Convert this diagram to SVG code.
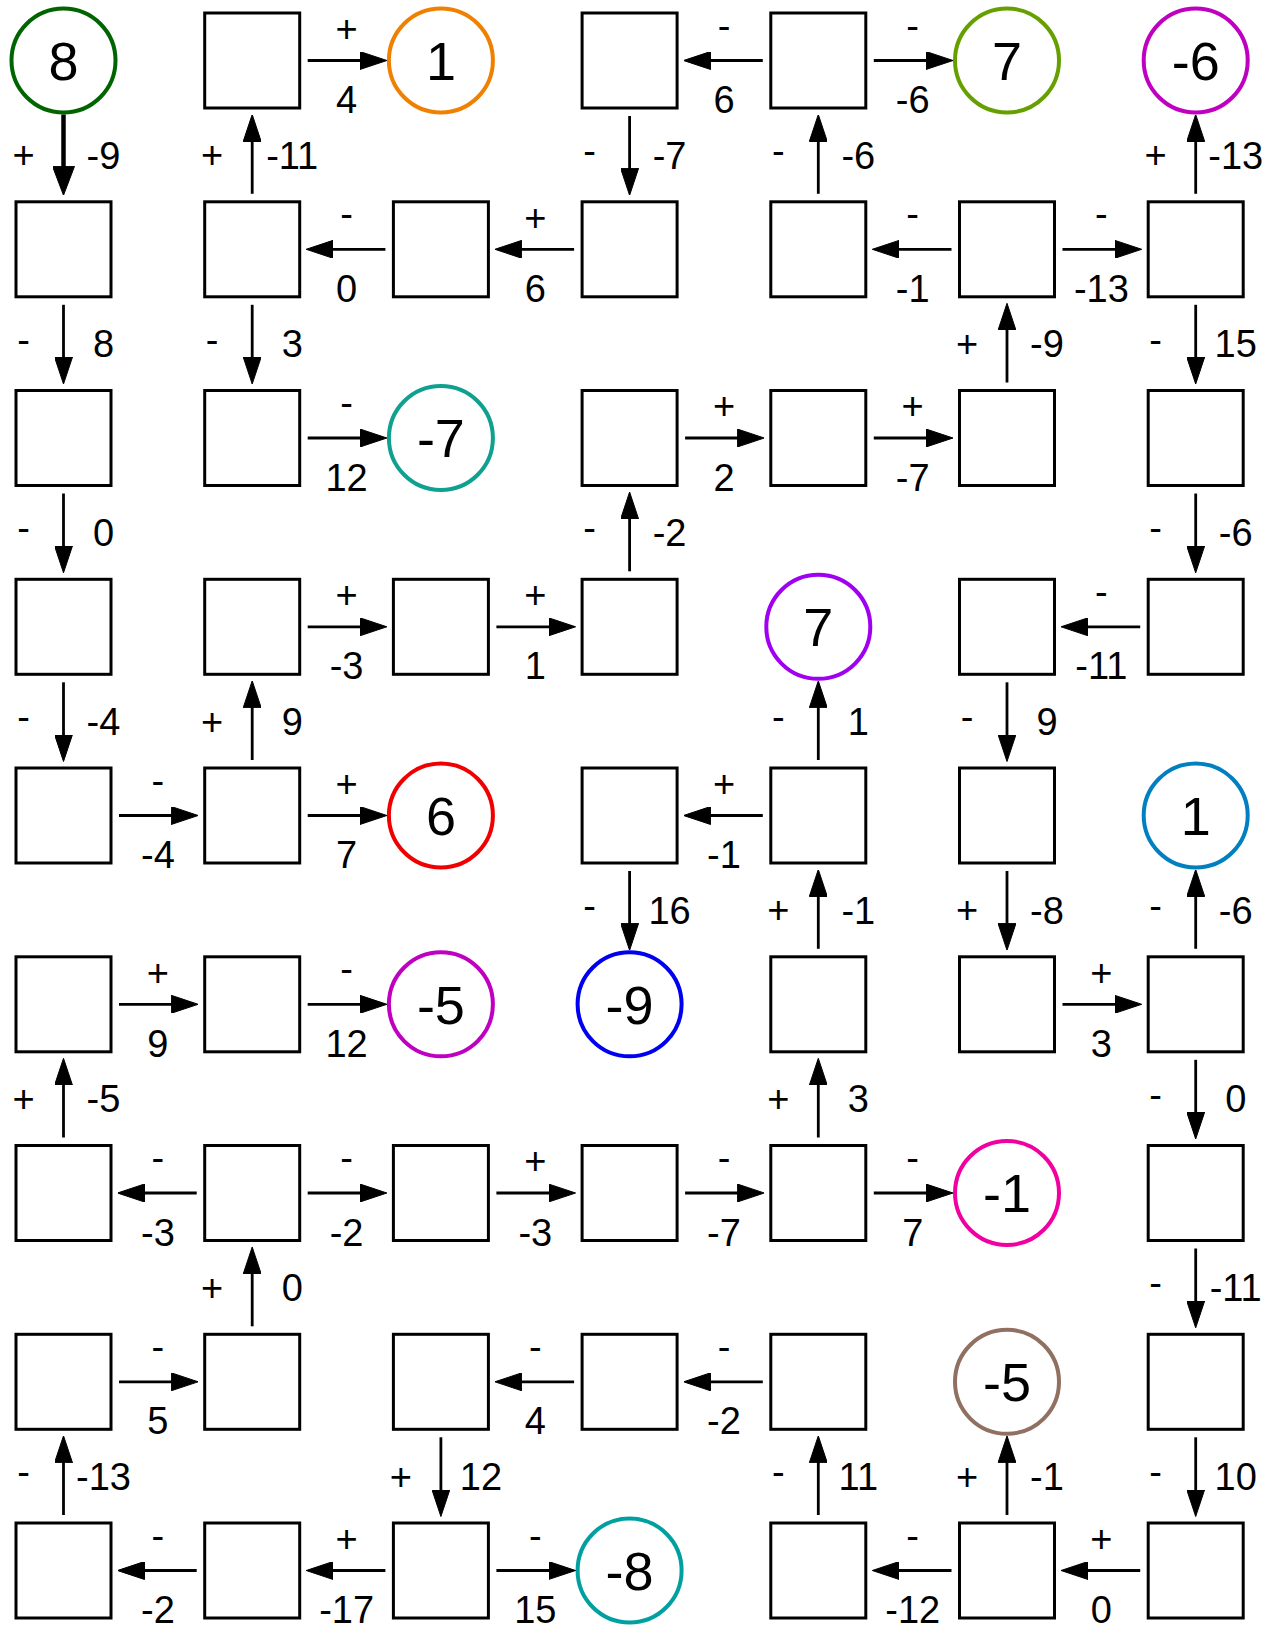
<svg xmlns="http://www.w3.org/2000/svg" width="1278" height="1625" viewBox="0 0 1278 1625">
<style>
.b{fill:#fff;stroke:#000;stroke-width:3}
.c{fill:#fff;stroke-width:4}
.n{font-family:"Liberation Sans",Arial,sans-serif;font-size:54px;text-anchor:middle;fill:#000}
.e path{fill:none;stroke:#000;stroke-width:2.8;marker-end:url(#ah)}
.e path.t{stroke-width:4.5;marker-end:url(#aht)}
.l text{font-family:"Liberation Sans",Arial,sans-serif;font-size:38px;text-anchor:middle;fill:#000}
</style>
<defs>
<marker id="ah" viewBox="0 0 27 18" refX="17" refY="9" markerWidth="27" markerHeight="18" markerUnits="userSpaceOnUse" orient="auto"><path d="M0,0 L27,9 L0,18 Z" fill="#000" stroke="#000" stroke-width="1" stroke-linejoin="round"/></marker>
<marker id="aht" viewBox="0 0 29 22" refX="19" refY="11" markerWidth="29" markerHeight="22" markerUnits="userSpaceOnUse" orient="auto"><path d="M0,0 L29,11 L0,22 Z" fill="#000" stroke="#000" stroke-width="1" stroke-linejoin="round"/></marker>
</defs>
<rect width="1278" height="1625" fill="#fff"/>
<g id="nodes">
<g id="n0_0"><circle class="c" cx="63.5" cy="60.5" r="52" stroke="#006400"/><text class="n" x="63.5" y="79.8">8</text></g>
<g id="n0_1"><rect class="b" x="204.7" y="13" width="95" height="95"/></g>
<g id="n0_2"><circle class="c" cx="440.9" cy="60.5" r="52" stroke="#F08000"/><text class="n" x="440.9" y="79.8">1</text></g>
<g id="n0_3"><rect class="b" x="582.1" y="13" width="95" height="95"/></g>
<g id="n0_4"><rect class="b" x="770.8" y="13" width="95" height="95"/></g>
<g id="n0_5"><circle class="c" cx="1007" cy="60.5" r="52" stroke="#66A000"/><text class="n" x="1007" y="79.8">7</text></g>
<g id="n0_6"><circle class="c" cx="1195.7" cy="60.5" r="52" stroke="#C000C0"/><text class="n" x="1195.7" y="79.8">-6</text></g>

<g id="n1_0"><rect class="b" x="16" y="201.8" width="95" height="95"/></g>
<g id="n1_1"><rect class="b" x="204.7" y="201.8" width="95" height="95"/></g>
<g id="n1_2"><rect class="b" x="393.4" y="201.8" width="95" height="95"/></g>
<g id="n1_3"><rect class="b" x="582.1" y="201.8" width="95" height="95"/></g>
<g id="n1_4"><rect class="b" x="770.8" y="201.8" width="95" height="95"/></g>
<g id="n1_5"><rect class="b" x="959.5" y="201.8" width="95" height="95"/></g>
<g id="n1_6"><rect class="b" x="1148.2" y="201.8" width="95" height="95"/></g>

<g id="n2_0"><rect class="b" x="16" y="390.5" width="95" height="95"/></g>
<g id="n2_1"><rect class="b" x="204.7" y="390.5" width="95" height="95"/></g>
<g id="n2_2"><circle class="c" cx="440.9" cy="438" r="52" stroke="#10A090"/><text class="n" x="440.9" y="457.3">-7</text></g>
<g id="n2_3"><rect class="b" x="582.1" y="390.5" width="95" height="95"/></g>
<g id="n2_4"><rect class="b" x="770.8" y="390.5" width="95" height="95"/></g>
<g id="n2_5"><rect class="b" x="959.5" y="390.5" width="95" height="95"/></g>
<g id="n2_6"><rect class="b" x="1148.2" y="390.5" width="95" height="95"/></g>

<g id="n3_0"><rect class="b" x="16" y="579.3" width="95" height="95"/></g>
<g id="n3_1"><rect class="b" x="204.7" y="579.3" width="95" height="95"/></g>
<g id="n3_2"><rect class="b" x="393.4" y="579.3" width="95" height="95"/></g>
<g id="n3_3"><rect class="b" x="582.1" y="579.3" width="95" height="95"/></g>
<g id="n3_4"><circle class="c" cx="818.3" cy="626.8" r="52" stroke="#A000F0"/><text class="n" x="818.3" y="646.1">7</text></g>
<g id="n3_5"><rect class="b" x="959.5" y="579.3" width="95" height="95"/></g>
<g id="n3_6"><rect class="b" x="1148.2" y="579.3" width="95" height="95"/></g>

<g id="n4_0"><rect class="b" x="16" y="768" width="95" height="95"/></g>
<g id="n4_1"><rect class="b" x="204.7" y="768" width="95" height="95"/></g>
<g id="n4_2"><circle class="c" cx="440.9" cy="815.5" r="52" stroke="#F00000"/><text class="n" x="440.9" y="834.8">6</text></g>
<g id="n4_3"><rect class="b" x="582.1" y="768" width="95" height="95"/></g>
<g id="n4_4"><rect class="b" x="770.8" y="768" width="95" height="95"/></g>
<g id="n4_5"><rect class="b" x="959.5" y="768" width="95" height="95"/></g>
<g id="n4_6"><circle class="c" cx="1195.7" cy="815.5" r="52" stroke="#0080C0"/><text class="n" x="1195.7" y="834.8">1</text></g>

<g id="n5_0"><rect class="b" x="16" y="956.8" width="95" height="95"/></g>
<g id="n5_1"><rect class="b" x="204.7" y="956.8" width="95" height="95"/></g>
<g id="n5_2"><circle class="c" cx="440.9" cy="1004.3" r="52" stroke="#C000C0"/><text class="n" x="440.9" y="1023.6">-5</text></g>
<g id="n5_3"><circle class="c" cx="629.6" cy="1004.3" r="52" stroke="#0000F0"/><text class="n" x="629.6" y="1023.6">-9</text></g>
<g id="n5_4"><rect class="b" x="770.8" y="956.8" width="95" height="95"/></g>
<g id="n5_5"><rect class="b" x="959.5" y="956.8" width="95" height="95"/></g>
<g id="n5_6"><rect class="b" x="1148.2" y="956.8" width="95" height="95"/></g>

<g id="n6_0"><rect class="b" x="16" y="1145.5" width="95" height="95"/></g>
<g id="n6_1"><rect class="b" x="204.7" y="1145.5" width="95" height="95"/></g>
<g id="n6_2"><rect class="b" x="393.4" y="1145.5" width="95" height="95"/></g>
<g id="n6_3"><rect class="b" x="582.1" y="1145.5" width="95" height="95"/></g>
<g id="n6_4"><rect class="b" x="770.8" y="1145.5" width="95" height="95"/></g>
<g id="n6_5"><circle class="c" cx="1007" cy="1193" r="52" stroke="#F000A0"/><text class="n" x="1007" y="1212.3">-1</text></g>
<g id="n6_6"><rect class="b" x="1148.2" y="1145.5" width="95" height="95"/></g>

<g id="n7_0"><rect class="b" x="16" y="1334.3" width="95" height="95"/></g>
<g id="n7_1"><rect class="b" x="204.7" y="1334.3" width="95" height="95"/></g>
<g id="n7_2"><rect class="b" x="393.4" y="1334.3" width="95" height="95"/></g>
<g id="n7_3"><rect class="b" x="582.1" y="1334.3" width="95" height="95"/></g>
<g id="n7_4"><rect class="b" x="770.8" y="1334.3" width="95" height="95"/></g>
<g id="n7_5"><circle class="c" cx="1007" cy="1381.8" r="52" stroke="#907060"/><text class="n" x="1007" y="1401.1">-5</text></g>
<g id="n7_6"><rect class="b" x="1148.2" y="1334.3" width="95" height="95"/></g>

<g id="n8_0"><rect class="b" x="16" y="1523" width="95" height="95"/></g>
<g id="n8_1"><rect class="b" x="204.7" y="1523" width="95" height="95"/></g>
<g id="n8_2"><rect class="b" x="393.4" y="1523" width="95" height="95"/></g>
<g id="n8_3"><circle class="c" cx="629.6" cy="1570.5" r="52" stroke="#00A0A0"/><text class="n" x="629.6" y="1589.8">-8</text></g>
<g id="n8_4"><rect class="b" x="770.8" y="1523" width="95" height="95"/></g>
<g id="n8_5"><rect class="b" x="959.5" y="1523" width="95" height="95"/></g>
<g id="n8_6"><rect class="b" x="1148.2" y="1523" width="95" height="95"/></g>
</g>
<g id="connectors" class="e">
<path d="M307.7,60.5 H376.9"/>
<path d="M762.8,60.5 H693.6"/>
<path d="M873.8,60.5 H943"/>
<path d="M385.4,249.3 H316.2"/>
<path d="M574.1,249.3 H504.9"/>
<path d="M951.5,249.3 H882.3"/>
<path d="M1062.5,249.3 H1131.7"/>
<path d="M307.7,438 H376.9"/>
<path d="M685.1,438 H754.3"/>
<path d="M873.8,438 H943"/>
<path d="M307.7,626.8 H376.9"/>
<path d="M496.4,626.8 H565.6"/>
<path d="M1140.2,626.8 H1071"/>
<path d="M119,815.5 H188.2"/>
<path d="M307.7,815.5 H376.9"/>
<path d="M762.8,815.5 H693.6"/>
<path d="M119,1004.3 H188.2"/>
<path d="M307.7,1004.3 H376.9"/>
<path d="M1062.5,1004.3 H1131.7"/>
<path d="M196.7,1193 H127.5"/>
<path d="M307.7,1193 H376.9"/>
<path d="M496.4,1193 H565.6"/>
<path d="M685.1,1193 H754.3"/>
<path d="M873.8,1193 H943"/>
<path d="M119,1381.8 H188.2"/>
<path d="M574.1,1381.8 H504.9"/>
<path d="M762.8,1381.8 H693.6"/>
<path d="M196.7,1570.5 H127.5"/>
<path d="M385.4,1570.5 H316.2"/>
<path d="M496.4,1570.5 H565.6"/>
<path d="M951.5,1570.5 H882.3"/>
<path d="M1140.2,1570.5 H1071"/>

<path class="t" d="M63.5,114.5 V185.3"/>
<path d="M252.2,193.8 V124.5"/>
<path d="M629.6,116 V185.3"/>
<path d="M818.3,193.8 V124.5"/>
<path d="M1195.7,193.8 V124.5"/>
<path d="M63.5,304.8 V374"/>
<path d="M252.2,304.8 V374"/>
<path d="M1007,382.5 V313.3"/>
<path d="M1195.7,304.8 V374"/>
<path d="M63.5,493.5 V562.8"/>
<path d="M629.6,571.3 V502"/>
<path d="M1195.7,493.5 V562.8"/>
<path d="M63.5,682.3 V751.5"/>
<path d="M252.2,760 V690.8"/>
<path d="M818.3,760 V690.8"/>
<path d="M1007,682.3 V751.5"/>
<path d="M629.6,871 V940.3"/>
<path d="M818.3,948.8 V879.5"/>
<path d="M1007,871 V940.3"/>
<path d="M1195.7,948.8 V879.5"/>
<path d="M63.5,1137.5 V1068.3"/>
<path d="M818.3,1137.5 V1068.3"/>
<path d="M1195.7,1059.8 V1129"/>
<path d="M252.2,1326.3 V1257"/>
<path d="M1195.7,1248.5 V1317.8"/>
<path d="M63.5,1515 V1445.8"/>
<path d="M440.9,1437.3 V1506.5"/>
<path d="M818.3,1515 V1445.8"/>
<path d="M1007,1515 V1445.8"/>
<path d="M1195.7,1437.3 V1506.5"/>
</g>
<g id="labels" class="l">
<text x="346.6" y="41.9">+</text><text x="346.6" y="113.1">4</text>
<text x="724" y="38.5">-</text><text x="724" y="113.1">6</text>
<text x="912.7" y="38.5">-</text><text x="912.7" y="113.1">-6</text>
<text x="346.6" y="227.3">-</text><text x="346.6" y="301.9">0</text>
<text x="535.3" y="230.7">+</text><text x="535.3" y="301.9">6</text>
<text x="912.7" y="227.3">-</text><text x="912.7" y="301.9">-1</text>
<text x="1101.4" y="227.3">-</text><text x="1101.4" y="301.9">-13</text>
<text x="346.6" y="416">-</text><text x="346.6" y="490.6">12</text>
<text x="724" y="419.4">+</text><text x="724" y="490.6">2</text>
<text x="912.7" y="419.4">+</text><text x="912.7" y="490.6">-7</text>
<text x="346.6" y="608.2">+</text><text x="346.6" y="679.4">-3</text>
<text x="535.3" y="608.2">+</text><text x="535.3" y="679.4">1</text>
<text x="1101.4" y="604.8">-</text><text x="1101.4" y="679.4">-11</text>
<text x="157.9" y="793.5">-</text><text x="157.9" y="868.1">-4</text>
<text x="346.6" y="796.9">+</text><text x="346.6" y="868.1">7</text>
<text x="724" y="796.9">+</text><text x="724" y="868.1">-1</text>
<text x="157.9" y="985.7">+</text><text x="157.9" y="1056.9">9</text>
<text x="346.6" y="982.3">-</text><text x="346.6" y="1056.9">12</text>
<text x="1101.4" y="985.7">+</text><text x="1101.4" y="1056.9">3</text>
<text x="157.9" y="1171">-</text><text x="157.9" y="1245.6">-3</text>
<text x="346.6" y="1171">-</text><text x="346.6" y="1245.6">-2</text>
<text x="535.3" y="1174.4">+</text><text x="535.3" y="1245.6">-3</text>
<text x="724" y="1171">-</text><text x="724" y="1245.6">-7</text>
<text x="912.7" y="1171">-</text><text x="912.7" y="1245.6">7</text>
<text x="157.9" y="1359.8">-</text><text x="157.9" y="1434.4">5</text>
<text x="535.3" y="1359.8">-</text><text x="535.3" y="1434.4">4</text>
<text x="724" y="1359.8">-</text><text x="724" y="1434.4">-2</text>
<text x="157.9" y="1548.5">-</text><text x="157.9" y="1623.1">-2</text>
<text x="346.6" y="1551.9">+</text><text x="346.6" y="1623.1">-17</text>
<text x="535.3" y="1548.5">-</text><text x="535.3" y="1623.1">15</text>
<text x="912.7" y="1548.5">-</text><text x="912.7" y="1623.1">-12</text>
<text x="1101.4" y="1551.9">+</text><text x="1101.4" y="1623.1">0</text>

<text x="23.5" y="168.3">+</text><text x="103.5" y="168.5">-9</text>
<text x="212.2" y="168.3">+</text><text x="292.2" y="168.5">-11</text>
<text x="589.6" y="163.9">-</text><text x="669.6" y="168.5">-7</text>
<text x="778.3" y="163.9">-</text><text x="858.3" y="168.5">-6</text>
<text x="1155.7" y="168.3">+</text><text x="1235.7" y="168.5">-13</text>
<text x="23.5" y="352.6">-</text><text x="103.5" y="357.2">8</text>
<text x="212.2" y="352.6">-</text><text x="292.2" y="357.2">3</text>
<text x="967" y="357">+</text><text x="1047" y="357.2">-9</text>
<text x="1155.7" y="352.6">-</text><text x="1235.7" y="357.2">15</text>
<text x="23.5" y="541.4">-</text><text x="103.5" y="546">0</text>
<text x="589.6" y="541.4">-</text><text x="669.6" y="546">-2</text>
<text x="1155.7" y="541.4">-</text><text x="1235.7" y="546">-6</text>
<text x="23.5" y="730.1">-</text><text x="103.5" y="734.7">-4</text>
<text x="212.2" y="734.5">+</text><text x="292.2" y="734.7">9</text>
<text x="778.3" y="730.1">-</text><text x="858.3" y="734.7">1</text>
<text x="967" y="730.1">-</text><text x="1047" y="734.7">9</text>
<text x="589.6" y="918.9">-</text><text x="669.6" y="923.5">16</text>
<text x="778.3" y="923.3">+</text><text x="858.3" y="923.5">-1</text>
<text x="967" y="923.3">+</text><text x="1047" y="923.5">-8</text>
<text x="1155.7" y="918.9">-</text><text x="1235.7" y="923.5">-6</text>
<text x="23.5" y="1112">+</text><text x="103.5" y="1112.2">-5</text>
<text x="778.3" y="1112">+</text><text x="858.3" y="1112.2">3</text>
<text x="1155.7" y="1107.6">-</text><text x="1235.7" y="1112.2">0</text>
<text x="212.2" y="1300.8">+</text><text x="292.2" y="1301">0</text>
<text x="1155.7" y="1296.4">-</text><text x="1235.7" y="1301">-11</text>
<text x="23.5" y="1485.1">-</text><text x="103.5" y="1489.7">-13</text>
<text x="400.9" y="1489.5">+</text><text x="480.9" y="1489.7">12</text>
<text x="778.3" y="1485.1">-</text><text x="858.3" y="1489.7">11</text>
<text x="967" y="1489.5">+</text><text x="1047" y="1489.7">-1</text>
<text x="1155.7" y="1485.1">-</text><text x="1235.7" y="1489.7">10</text>
</g>
</svg>
